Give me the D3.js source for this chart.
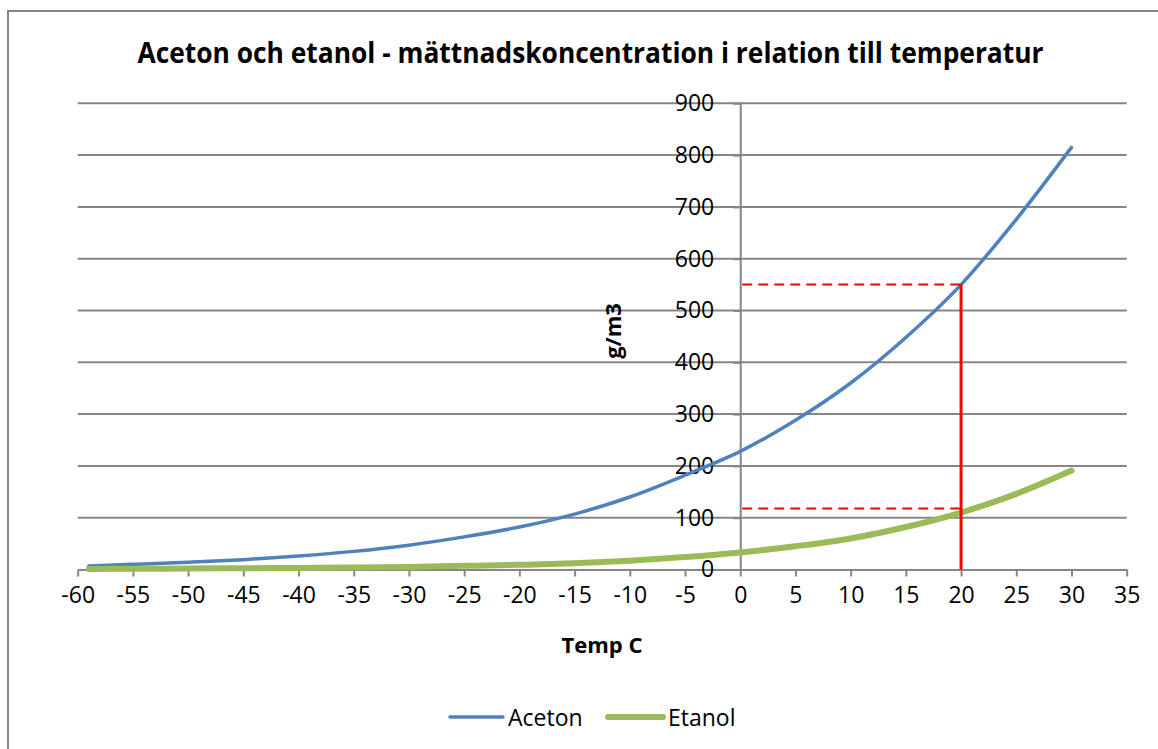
<!DOCTYPE html>
<html>
<head>
<meta charset="utf-8">
<script src="https://cdn.jsdelivr.net/npm/d3@7"></script>
<style>
  html, body { margin: 0; padding: 0; background: #fff; }
  svg { display: block; font-family: "Open Sans", sans-serif; }
</style>
</head>
<body>
<div id="chart"></div>
<script>
// ---- data ----
const temps   = [-59, -55, -50, -45, -40, -35, -30, -25, -20, -15, -10, -5, 0, 5, 10, 15, 20, 25, 30];
const aceton  = [7, 10, 14, 19, 26, 35, 47, 63, 82, 107, 140, 182, 228, 288, 360, 448, 550, 676, 815];
const etanol  = [1, 1.3, 2, 2.5, 3, 4, 5, 7, 9, 12, 17, 24, 33, 45, 60, 82, 110, 146, 191];
const seriesNames = ["Aceton", "Etanol"];
const xTicks = d3.range(-60, 36, 5);
const yTicks = d3.range(0, 901, 100);
// reading lines at 20 C
const readT = 20, readAceton = 550, readEtanol = 118;

const W = 1158, H = 749;
const colors = { Aceton: "#4F81BD", Etanol: "#9BBB59" };
const gridCol = "#868686";

const svg = d3.select("#chart").append("svg")
  .attr("width", W).attr("height", H);

// outer frame (only left/top visible in the crop)
svg.append("path")
  .attr("d", `M8,${H} L8,11 L${W},11`)
  .attr("fill", "none").attr("stroke", gridCol).attr("stroke-width", 2);

const x = d3.scaleLinear().domain([-60, 35]).range([77.7, 1126.7]);
const y = d3.scaleLinear().domain([0, 900]).range([569.5, 103.3]);

// plain hyphen for negatives, like the original
const fmt = d => String(d);

// title
svg.append("text")
  .attr("x", 590.5).attr("y", 63)
  .attr("text-anchor", "middle")
  .attr("font-size", 28).attr("font-weight", "bold")
  .attr("textLength", 906).attr("lengthAdjust", "spacingAndGlyphs")
  .text("Aceton och etanol - mättnadskoncentration i relation till temperatur");

// horizontal gridlines
svg.append("g").selectAll("line")
  .data(yTicks.filter(d => d > 0))
  .join("line")
  .attr("x1", x(-60)).attr("x2", x(35))
  .attr("y1", d => y(d)).attr("y2", d => y(d))
  .attr("stroke", gridCol).attr("stroke-width", 2);

// x axis at y=0
const xAxis = svg.append("g")
  .attr("transform", `translate(0,${y(0)})`)
  .call(d3.axisBottom(x).tickValues(xTicks).tickFormat(fmt).tickSize(7).tickSizeOuter(0).tickPadding(10));
xAxis.select(".domain").attr("stroke", gridCol).attr("stroke-width", 2);
xAxis.selectAll(".tick line").attr("stroke", gridCol).attr("stroke-width", 2);
xAxis.selectAll(".tick text")
  .attr("font-family", "Open Sans").attr("font-size", 23).attr("fill", "#000");

// y axis at x=0
const yAxis = svg.append("g")
  .attr("transform", `translate(${x(0)},0)`)
  .call(d3.axisLeft(y).tickValues(yTicks).tickFormat(fmt).tickSize(7).tickSizeOuter(0).tickPadding(19));
yAxis.select(".domain").attr("stroke", gridCol).attr("stroke-width", 2);
yAxis.selectAll(".tick line").attr("stroke", gridCol).attr("stroke-width", 2);
yAxis.selectAll(".tick text")
  .attr("font-family", "Open Sans").attr("font-size", 23).attr("fill", "#000");

// axis titles
svg.append("text")
  .attr("x", 602).attr("y", 653)
  .attr("text-anchor", "middle")
  .attr("font-size", 22).attr("font-weight", "bold")
  .text("Temp C");

svg.append("text")
  .attr("transform", `translate(621,331) rotate(-90)`)
  .attr("text-anchor", "middle")
  .attr("font-size", 22).attr("font-weight", "bold")
  .text("g/m3");

// series lines
const line = d3.line()
  .x(d => x(d[0])).y(d => y(d[1]))
  .curve(d3.curveMonotoneX);

const series = [
  { name: "Aceton", values: temps.map((t, i) => [t, aceton[i]]), width: 3.5 },
  { name: "Etanol", values: temps.map((t, i) => [t, etanol[i]]), width: 6 }
];

svg.append("g").selectAll("path")
  .data(series)
  .join("path")
  .attr("d", d => line(d.values))
  .attr("fill", "none")
  .attr("stroke", d => colors[d.name])
  .attr("stroke-width", d => d.width)
  .attr("stroke-linecap", "round");

// red reading lines
const red = svg.append("g");
red.selectAll("line.dash")
  .data([readAceton, readEtanol])
  .join("line")
  .attr("class", "dash")
  .attr("x1", x(0) + 2).attr("x2", x(readT))
  .attr("y1", d => y(d)).attr("y2", d => y(d))
  .attr("stroke", "#FF0000").attr("stroke-width", 2)
  .attr("stroke-dasharray", "10,6");
red.append("line")
  .attr("x1", x(readT)).attr("x2", x(readT))
  .attr("y1", y(0)).attr("y2", y(readAceton))
  .attr("stroke", "#FF0000").attr("stroke-width", 3);

// legend
const legendPos = [{ x: 450, w: 53 }, { x: 608, w: 55 }];
const legend = svg.append("g").selectAll("g")
  .data(series)
  .join("g")
  .attr("transform", (d, i) => `translate(${legendPos[i].x},717)`);
legend.append("line")
  .attr("x1", 0).attr("x2", (d, i) => legendPos[i].w)
  .attr("stroke", d => colors[d.name])
  .attr("stroke-width", d => d.width)
  .attr("stroke-linecap", "round");
legend.append("text")
  .attr("x", (d, i) => legendPos[i].w + 5)
  .attr("y", 8.5)
  .attr("font-size", 23)
  .text(d => d.name);
</script>
</body>
</html>
